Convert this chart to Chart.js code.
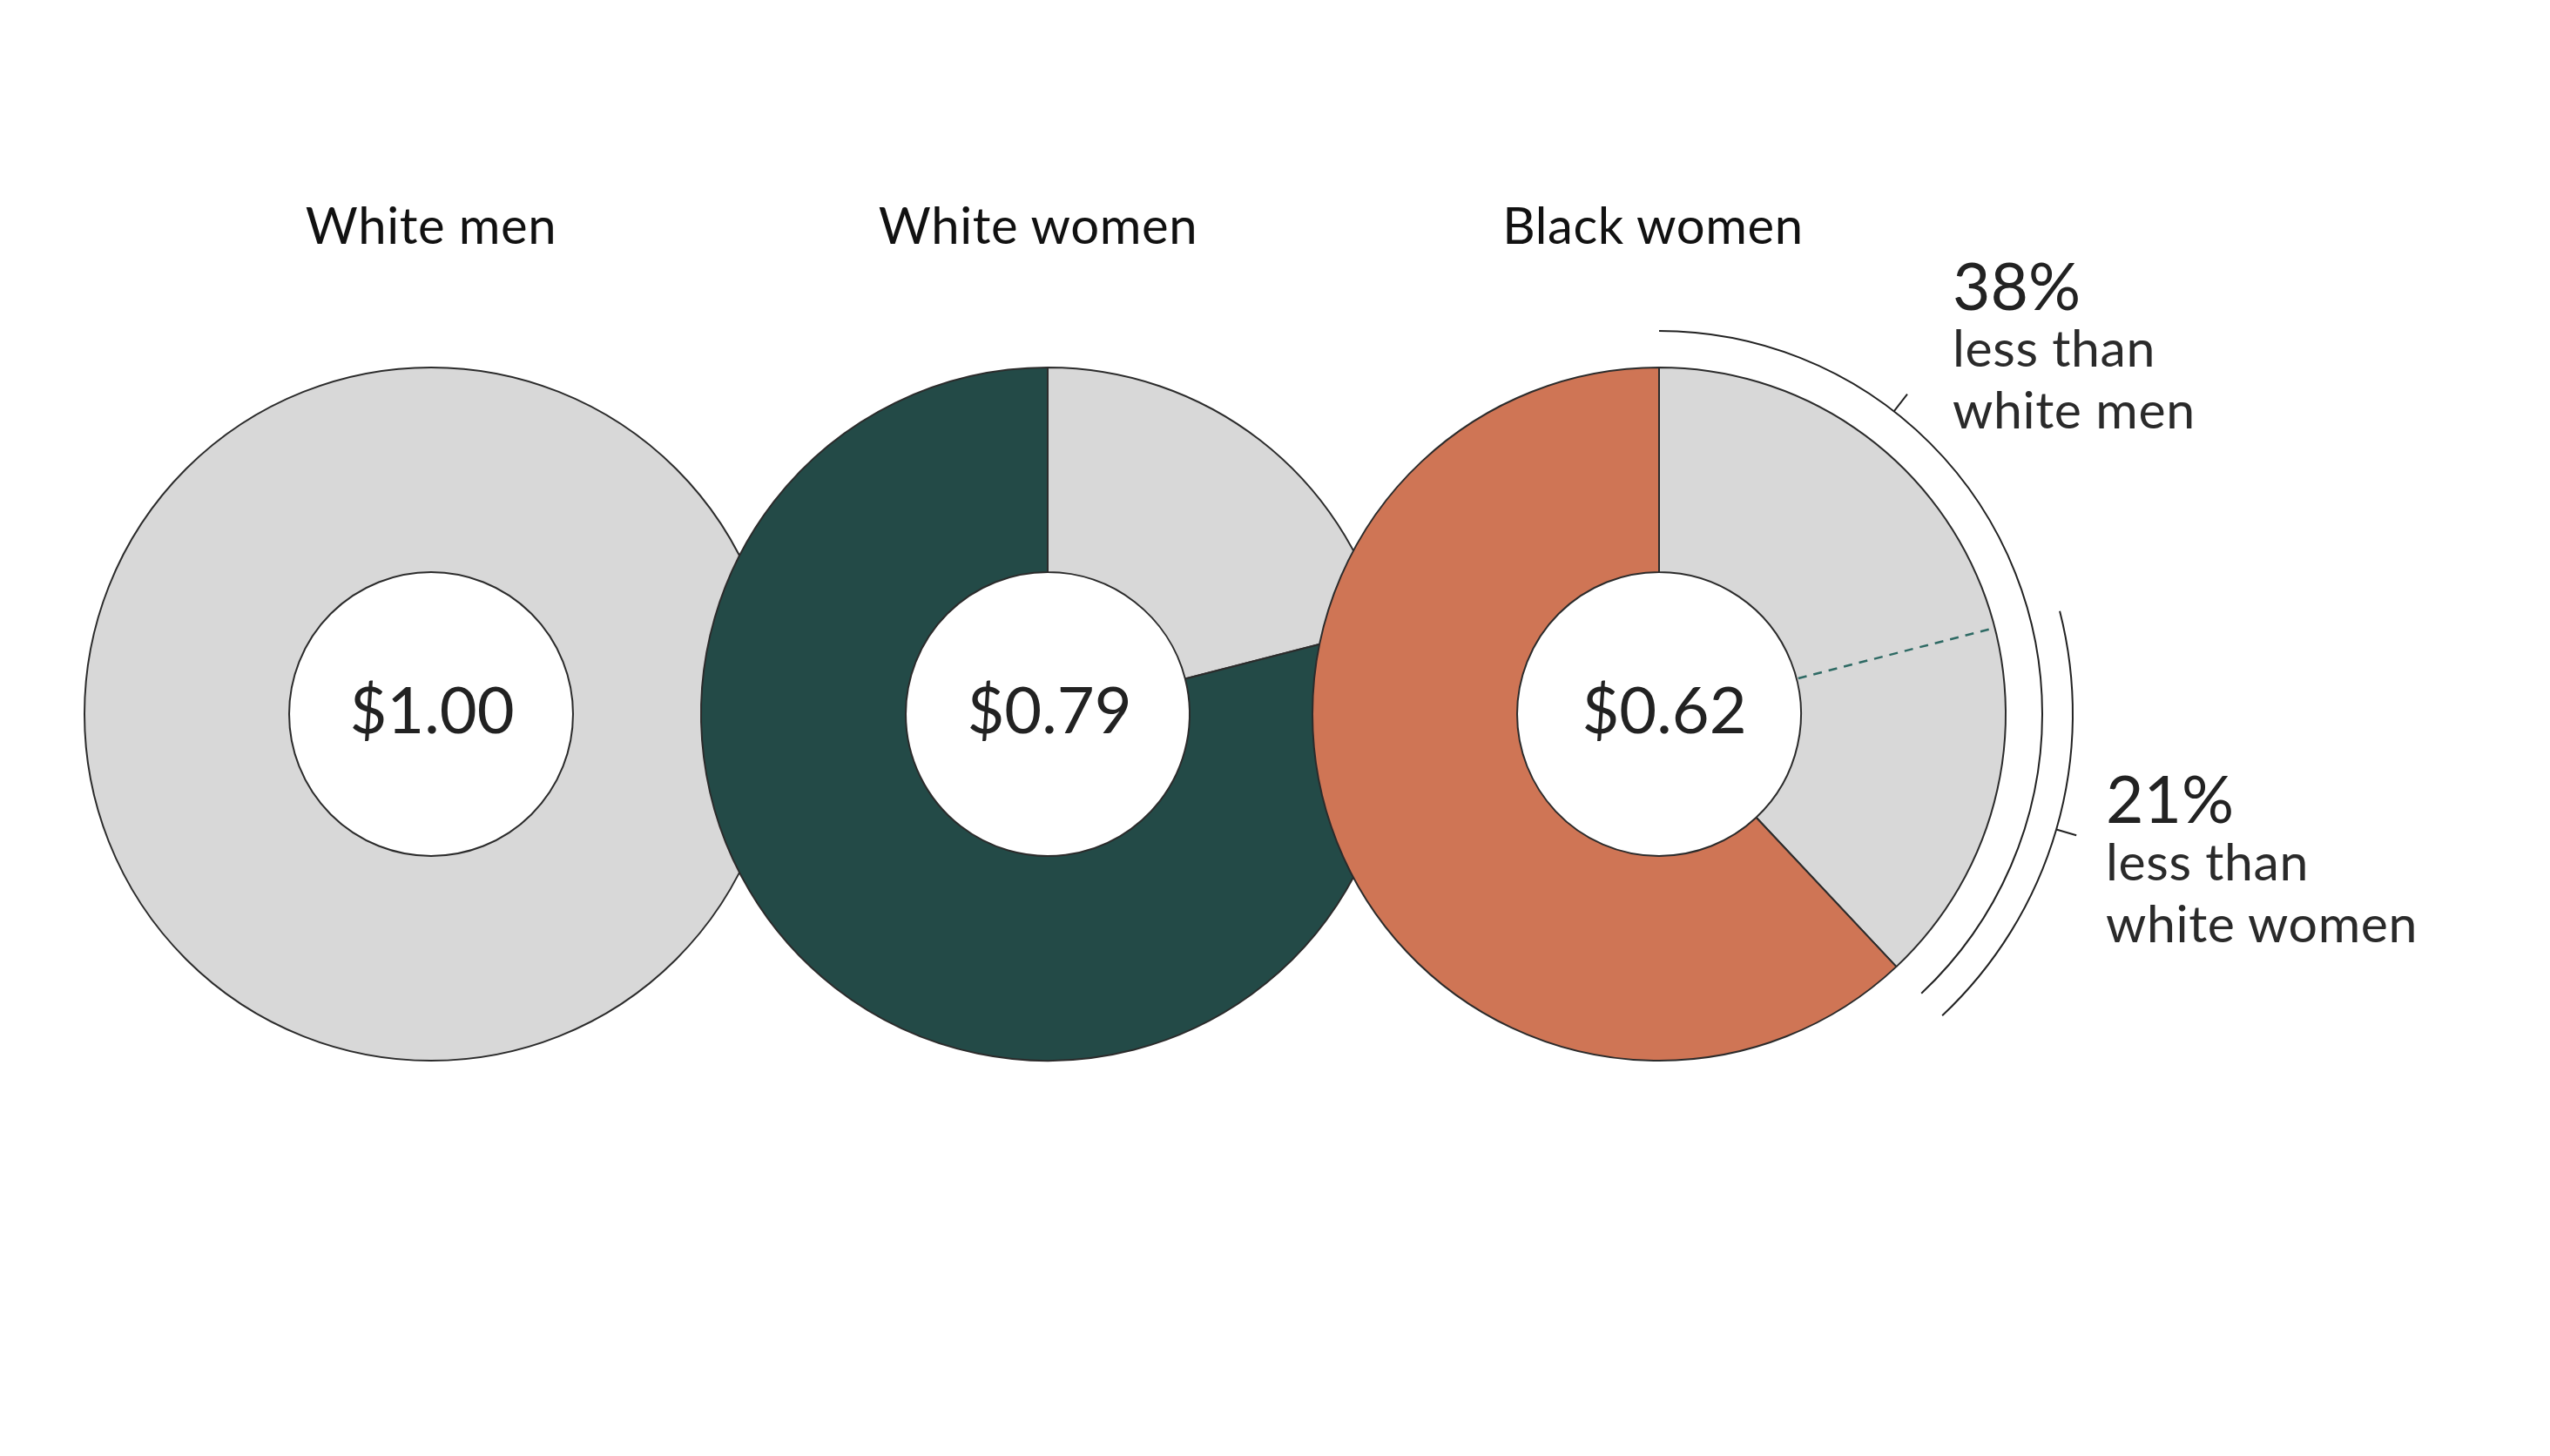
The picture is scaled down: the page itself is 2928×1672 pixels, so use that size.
<!DOCTYPE html>
<html>
<head>
<meta charset="utf-8">
<script src="https://cdn.jsdelivr.net/npm/chart.js@4.4.1/dist/chart.umd.min.js"></script>
<style>
  html, body { margin: 0; padding: 0; background: #ffffff; }
  #stage { position: relative; width: 2928px; height: 1672px; overflow: hidden; background: #fff; }
  canvas.donut { position: absolute; }
  .lbl { position: absolute; font-family: Lato, "Open Sans", sans-serif; color: #1e1e1e; white-space: nowrap; line-height: 1; letter-spacing: 0.6px; }
  .title { font-size: 58px; transform: translateX(-50%); color: #111; }
  .value { font-size: 74px; transform: translateX(-50%); color: #222; letter-spacing: 0; }
  .pct { font-size: 75px; color: #222; letter-spacing: 0; }
  .note { font-size: 59px; line-height: 71px; color: #2a2a2a; }
</style>
</head>
<body>
<div id="stage"></div>
<script>
// ---- data ----
const groups = ['White men', 'White women', 'Black women'];
const earnings = [1.00, 0.79, 0.62];            // dollars earned per white men's dollar
const valueLabels = ['$1.00', '$0.79', '$0.62'];
const lessThanWhiteMen = 38;                    // % Black women earn less than white men
const lessThanWhiteWomen = 21;                  // % Black women earn less than white women
const noteLines = [['less than', 'white men'], ['less than', 'white women']];

// ---- styling / layout ----
const GREY = '#d8d8d8';
const fills = ['#d8d8d8', '#234a47', '#cf7555'];
const centersX = [495, 1203, 1905];
const titleX = [495, 1192, 1898];
const valueX = [496, 1205, 1911];
const centerY = 820;
const OUTER = 398, INNER = 163;
const HALF = 620;

const stage = document.getElementById('stage');

function addLabel(cls, text, left, top) {
  const d = document.createElement('div');
  d.className = 'lbl ' + cls;
  d.style.left = left + 'px';
  d.style.top = top + 'px';
  d.innerHTML = text;
  stage.appendChild(d);
  return d;
}

// outline for the single-slice donut (avoids the seam line at 12 o'clock)
const ringOutline = {
  id: 'ringOutline',
  afterDatasetsDraw(chart) {
    const arc = chart.getDatasetMeta(0).data[0];
    if (!arc) return;
    const ctx = chart.ctx;
    ctx.save();
    ctx.strokeStyle = '#2b2b2b';
    ctx.lineWidth = 2;
    ctx.beginPath(); ctx.arc(arc.x, arc.y, arc.outerRadius, 0, Math.PI * 2); ctx.stroke();
    ctx.beginPath(); ctx.arc(arc.x, arc.y, arc.innerRadius, 0, Math.PI * 2); ctx.stroke();
    ctx.restore();
  }
};

// annotation plugin for the Black women donut
const annotate = {
  id: 'annotate',
  afterDatasetsDraw(chart) {
    const arc = chart.getDatasetMeta(0).data[0];
    if (!arc) return;
    const cx = arc.x, cy = arc.y;
    const rIn = arc.innerRadius, rOut = arc.outerRadius;
    const ctx = chart.ctx;
    const a = f => f * 2 * Math.PI - Math.PI / 2;
    const gapWM = lessThanWhiteMen / 100;
    const gapWW = lessThanWhiteWomen / 100;
    const endAng = a(gapWM);
    ctx.save();
    // dashed boundary of white women's earnings
    ctx.strokeStyle = '#2e6a64';
    ctx.lineWidth = 2.5;
    ctx.setLineDash([10, 8]);
    const ang = a(gapWW);
    ctx.beginPath();
    ctx.moveTo(cx + Math.cos(ang) * (rIn + 2), cy + Math.sin(ang) * (rIn + 2));
    ctx.lineTo(cx + Math.cos(ang) * (rOut - 2), cy + Math.sin(ang) * (rOut - 2));
    ctx.stroke();
    ctx.setLineDash([]);
    // bracket arcs
    ctx.strokeStyle = '#222';
    ctx.lineWidth = 2;
    const R1 = 440, R2 = 475;
    ctx.beginPath();
    ctx.arc(cx, cy, R1, a(0), endAng);
    ctx.stroke();
    ctx.beginPath();
    ctx.arc(cx, cy, R2, ang, endAng);
    ctx.stroke();
    // ticks
    const t1 = a(0.105), t2 = a((gapWW + gapWM) / 2);
    ctx.beginPath();
    ctx.moveTo(cx + Math.cos(t1) * R1, cy + Math.sin(t1) * R1);
    ctx.lineTo(cx + Math.cos(t1) * (R1 + 25), cy + Math.sin(t1) * (R1 + 25));
    ctx.moveTo(cx + Math.cos(t2) * R2, cy + Math.sin(t2) * R2);
    ctx.lineTo(cx + Math.cos(t2) * (R2 + 24), cy + Math.sin(t2) * (R2 + 24));
    ctx.stroke();
    ctx.restore();
  }
};

groups.forEach((g, i) => {
  const c = document.createElement('canvas');
  c.className = 'donut';
  c.width = HALF * 2; c.height = HALF * 2;
  c.style.width = HALF * 2 + 'px'; c.style.height = HALF * 2 + 'px';
  c.style.left = (centersX[i] - HALF) + 'px';
  c.style.top = (centerY - HALF) + 'px';
  stage.appendChild(c);
  const gap = Math.round((1 - earnings[i]) * 100) / 100;
  const single = gap === 0;
  const data = single ? [earnings[i]] : [gap, earnings[i]];
  const colors = single ? [GREY] : [GREY, fills[i]];
  new Chart(c.getContext('2d'), {
    type: 'doughnut',
    data: {
      labels: single ? [g] : ['gap', g],
      datasets: [{
        data: data,
        backgroundColor: colors,
        borderColor: '#2b2b2b',
        borderWidth: single ? 0 : 2,
        hoverOffset: 0
      }]
    },
    options: {
      responsive: false,
      animation: false,
      devicePixelRatio: 1,
      events: [],
      radius: OUTER,
      cutout: (INNER / OUTER * 100).toFixed(2) + '%',
      layout: { padding: 0 },
      plugins: { legend: { display: false }, tooltip: { enabled: false } }
    },
    plugins: single ? [ringOutline] : (i === 2 ? [annotate] : [])
  });
});

// text
groups.forEach((g, i) => {
  addLabel('title', g, titleX[i], 229);
  addLabel('value', valueLabels[i], valueX[i], 777);
});
addLabel('pct', lessThanWhiteMen + '%', 2242, 290);
addLabel('note', noteLines[0].join('<br>'), 2242, 363);
addLabel('pct', lessThanWhiteWomen + '%', 2418, 879);
addLabel('note', noteLines[1].join('<br>'), 2418, 953);
</script>
</body>
</html>
